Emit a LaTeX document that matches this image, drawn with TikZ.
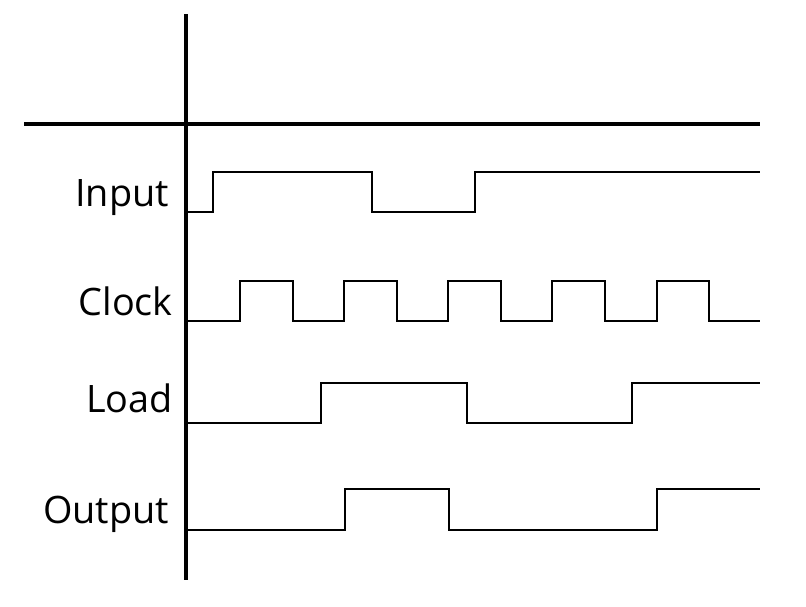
\documentclass[tikz,border=0pt]{standalone}
\usepackage{fontspec}
\setmainfont{Open Sans}
\begin{document}
\begin{tikzpicture}[x=1pt,y=-1pt,
  axis/.style={line width=3.6pt},
  wave/.style={line width=2.4pt,line join=miter},
  lbl/.style={anchor=base east,inner sep=0pt,font=\fontsize{37.8}{40}\selectfont}]
\useasboundingbox (0,0) rectangle (806,606);
% axes
\draw[axis] (186,14) -- (186,580);
\draw[axis] (24,124) -- (760,124);
% labels
\node[lbl] (in) at (169,206) {Input};
\node[lbl] (clk) at (173,315) {Clock};
\node[lbl] (ld) at (173,412) {Load};
\node[lbl] (out) at (169,523) {Output};
% Input
\draw[wave] (188,212) -- (213,212) -- (213,172) -- (372,172) -- (372,212) -- (475,212) -- (475,172) -- (760,172);
% Clock
\draw[wave] (188,321) -- (240,321) -- (240,281) -- (293,281) -- (293,321)
  -- (344,321) -- (344,281) -- (397,281) -- (397,321)
  -- (448,321) -- (448,281) -- (501,281) -- (501,321)
  -- (552,321) -- (552,281) -- (605,281) -- (605,321)
  -- (657,321) -- (657,281) -- (709,281) -- (709,321) -- (760,321);
% Load
\draw[wave] (188,423) -- (321,423) -- (321,383) -- (467,383) -- (467,423) -- (632,423) -- (632,383) -- (760,383);
% Output
\draw[wave] (188,530) -- (345,530) -- (345,489) -- (449,489) -- (449,530) -- (657,530) -- (657,489) -- (760,489);
\end{tikzpicture}
\end{document}
